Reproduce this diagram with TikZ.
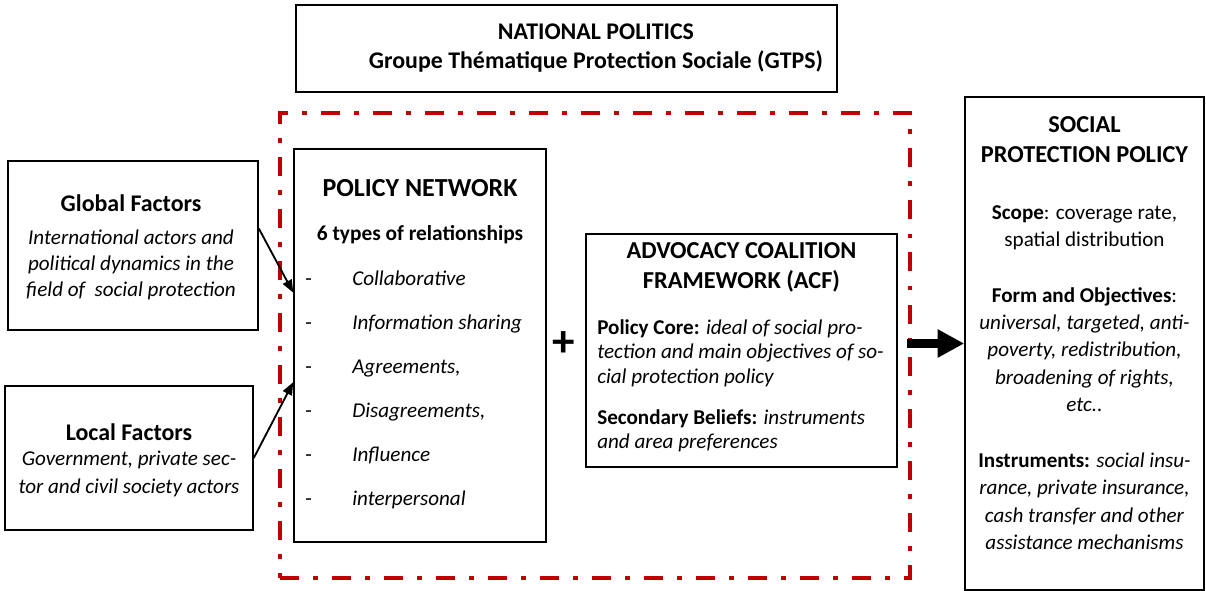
\documentclass[tikz,border=0pt]{standalone}
\usepackage{fontspec}
\setmainfont{Carlito}
\usetikzlibrary{arrows.meta,calc,positioning}

\newcommand{\px}[1]{#1*0.025cm}
\definecolor{coalred}{RGB}{192,0,0}

\begin{document}
\begin{tikzpicture}[x=0.025cm,y=-0.025cm,
  box/.style={draw,line width=1.1pt,inner sep=0pt},
  txt/.style={inner sep=0pt,align=center,font=\fontsize{15}{18.5}\selectfont},
  head/.style={inner sep=0pt,align=center,font=\fontsize{17.3}{21.3}\selectfont\bfseries},
  link/.style={line width=1.3pt,-{Triangle[length=9pt,width=7pt]}}]
\useasboundingbox (0,0) rectangle (1206,591);

% boxes
\node[box,minimum width=\px{541},minimum height=\px{87}] (np) at (566.5,48.5) {};
\node[draw=coalred,line width=3pt,dash pattern=on 13.5pt off 10pt on 3.5pt off 10pt,
  inner sep=0pt,minimum width=\px{630},minimum height=\px{465}] (coal) at (595,345.5) {};
\node[box,minimum width=\px{250},minimum height=\px{169}] (gf) at (133,245.5) {};
\node[box,minimum width=\px{248},minimum height=\px{144}] (lf) at (129,458) {};
\node[box,minimum width=\px{252},minimum height=\px{393}] (pn) at (420,345.5) {};
\node[box,minimum width=\px{311},minimum height=\px{233}] (acf) at (741.5,350.5) {};
\node[box,minimum width=\px{239},minimum height=\px{493}] (spp) at (1084.5,343.5) {};

% national politics
\node[txt,font=\fontsize{17}{20.6}\selectfont\bfseries] (nptext) at (596,48.5)
  {NATIONAL POLITICS\\Groupe Thématique Protection Sociale (GTPS)};

% global and local factors
\node[txt,font=\fontsize{17}{20}\selectfont\bfseries] (gftitle) at (131,203) {Global Factors};
\node[txt,font=\fontsize{15}{18.5}\selectfont\itshape] (gftext) at (131,265)
  {International actors and\\political dynamics in the\\field of\ \ social protection};
\node[txt,font=\fontsize{17}{20}\selectfont\bfseries] (lftitle) at (129,432) {Local Factors};
\node[txt,font=\fontsize{15}{20}\selectfont\itshape] (lftext) at (129,474)
  {Government, private sec-\\tor and civil society actors};

% policy network
\node[head,font=\fontsize{18.5}{22}\selectfont\bfseries] (pntitle) at (420,188) {POLICY NETWORK};
\node[txt,font=\fontsize{15.2}{18}\selectfont\bfseries] (pntypes) at (420,235) {6 types of relationships};
\foreach \rel [count=\i from 0] in {Collaborative,Information sharing,{Agreements,},
  {Disagreements,},Influence,interpersonal}{
  \node[txt,anchor=base west] (dash\i) at (305,285+44*\i) {-};
  \node[txt,anchor=base west,font=\fontsize{15}{18}\selectfont\itshape] (rel\i) at (352,285+44*\i) {\rel};
}

\node[inner sep=0pt,font=\fontsize{32}{32}\selectfont\bfseries] (plus) at (564,344) {+};

% advocacy coalition framework
\node[head] (acftitle) at (741.5,267)
  {ADVOCACY COALITION\\FRAMEWORK (ACF)};
\node[txt,anchor=north west,align=left,font=\fontsize{15}{17.4}\selectfont] (acftext) at (597,319)
  {\textbf{Policy Core:} \textit{ideal of social pro-}\\\textit{tection and main objectives of so-}\\\textit{cial protection policy}\\[12pt]
   \textbf{Secondary Beliefs:} \textit{instruments}\\\textit{and area preferences}};

% social protection policy
\node[head] (spptitle) at (1084.5,140)
  {SOCIAL\\PROTECTION POLICY};
\node[txt,anchor=north,font=\fontsize{15}{19.5}\selectfont] (spptext) at (1084.5,205)
  {\textbf{Scope}: coverage rate,\\spatial distribution\\[20pt]
   \textbf{Form and Objectives}:\\\textit{universal, targeted, anti-}\\\textit{poverty, redistribution,}\\
   \textit{broadening of rights,}\\\textit{etc..}\\[20pt]
   \textbf{Instruments:} \textit{social insu-}\\\textit{rance, private insurance,}\\
   \textit{cash transfer and other}\\\textit{assistance mechanisms}};

% connectors
\draw[link] ($(gf.north east)!0.4!(gf.south east)$) -- ($(pn.north west)!0.366!(pn.south west)$);
\draw[link] (lf.east) -- ($(pn.north west)!0.593!(pn.south west)$);
\draw[line width=6.5pt,-{Triangle[length=19pt,width=19pt]}]
  ([xshift=-\px{5}]coal.east |- spp.west) -- (spp.west);

\end{tikzpicture}
\end{document}
